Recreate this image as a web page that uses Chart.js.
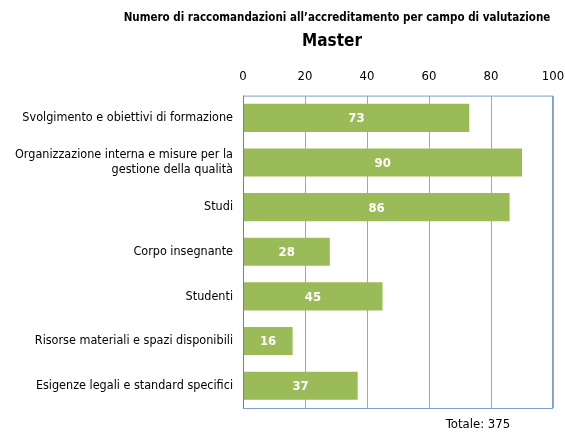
<!DOCTYPE html>
<html><head><meta charset="utf-8">
<script src="https://cdn.jsdelivr.net/npm/chart.js@4/dist/chart.umd.min.js"></script>
<style>html,body{margin:0;padding:0;background:#fff}#w{width:565px;height:432px}</style>
</head><body><div id="w"><canvas id="c"></canvas></div>
<script>
const categories = [
  "Svolgimento e obiettivi di formazione",
  ["Organizzazione interna e misure per la", "gestione della qualità"],
  "Studi",
  "Corpo insegnante",
  "Studenti",
  "Risorse materiali e spazi disponibili",
  "Esigenze legali e standard specifici"
];
const values = [73, 90, 86, 28, 45, 16, 37];
const xTicks = [0, 20, 40, 60, 80, 100];
const titleText = "Numero di raccomandazioni all\u2019accreditamento per campo di valutazione";
const subtitleText = "Master";
const totalText = "Totale: 375";

const FONT = "'Liberation Sans Narrow', 'DejaVu Sans Condensed', sans-serif";

const deco = {
  id: 'deco',
  afterDraw(chart) {
    const ctx = chart.ctx, a = chart.chartArea;
    ctx.save();
    ctx.strokeStyle = '#7f9fcf';
    ctx.lineWidth = 1;
    ctx.strokeRect(a.left + 0.5, a.top + 0.5, a.right - a.left - 1, a.bottom - a.top);
    ctx.strokeStyle = '#808080';
    ctx.beginPath(); ctx.moveTo(a.left + 0.5, a.top); ctx.lineTo(a.left + 0.5, a.bottom); ctx.stroke();
    const meta = chart.getDatasetMeta(0);
    ctx.fillStyle = '#ffffff';
    ctx.font = "bold 13px " + FONT;
    ctx.textAlign = 'center'; ctx.textBaseline = 'middle';
    meta.data.forEach((bar, i) => {
      const cx = (bar.base + bar.x) / 2;
      ctx.fillText(String(values[i]), cx, bar.y + 1);
    });
    ctx.fillStyle = '#000';
    ctx.font = "bold 11.5px " + FONT;
    ctx.fillText(titleText, 337, 18);
    ctx.font = "bold 17px " + FONT;
    ctx.fillText(subtitleText, 332, 42);
    ctx.font = "13px " + FONT;
    ctx.fillText(totalText, 478, 425);
    ctx.restore();
  }
};

new Chart(document.getElementById('c'), {
  type: 'bar',
  data: { labels: categories, datasets: [{ data: values, backgroundColor: '#9bbb59', barPercentage: 0.63, categoryPercentage: 1 }] },
  options: {
    indexAxis: 'y', responsive: true, maintainAspectRatio: false, animation: false,
    layout: { padding: { left: 0, right: 12, top: 58, bottom: 24 } },
    plugins: { legend: { display: false }, tooltip: { enabled: false } },
    scales: {
      x: {
        position: 'top', min: 0, max: 100,
        afterBuildTicks(s) { s.ticks = xTicks.map(v => ({ value: v })); },
        afterFit(s) { s.paddingRight = 0; s.paddingLeft = 0; },
        grid: { color: '#a6a6a6', drawTicks: false },
        border: { display: false },
        ticks: { color: '#000', font: { family: FONT, size: 13 }, padding: 11 }
      },
      y: {
        afterFit(s) { s.width = 243; },
        grid: { display: false, drawTicks: false },
        border: { display: false },
        ticks: { color: '#000', font: { family: FONT, size: 12.5 }, padding: 10, crossAlign: 'near' }
      }
    }
  },
  plugins: [deco]
});
</script></body></html>
